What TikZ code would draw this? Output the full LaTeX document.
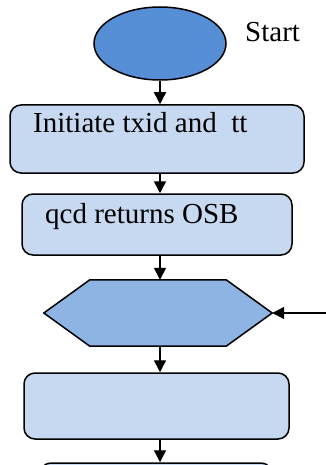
\documentclass[tikz,border=0pt]{standalone}
\usepackage{fontspec}
\setmainfont{Liberation Serif}
\usetikzlibrary{shapes.geometric,arrows.meta,calc}
\definecolor{ellblue}{HTML}{558ED5}
\definecolor{boxblue}{HTML}{C6D9F1}
\definecolor{hexblue}{HTML}{8EB4E3}
\tikzset{
  procbox/.style={draw=black, line width=1.5pt, fill=boxblue, rounded corners=11pt, inner sep=0pt},
  txt/.style={inner sep=0pt, anchor=base west, font=\fontsize{29}{29}\selectfont},
  flow/.style={line width=1.4pt, -{Triangle[width=12pt,length=12pt]}}
}
\begin{document}
\begin{tikzpicture}[x=1pt,y=-1pt]
\useasboundingbox (0,0) rectangle (326,465);
\node[ellipse, draw=black, line width=1.5pt, fill=ellblue, inner sep=0pt, minimum width=132pt, minimum height=73pt] (ell) at (160,43.5) {};
\node[txt] (start) at (245,42) {Start};
\node[procbox, minimum width=294pt, minimum height=68pt] (b1) at (157,139) {};
\node[txt] (t1) at (33,133) {Initiate txid and\ \ tt};
\node[procbox, minimum width=270pt, minimum height=61pt] (b2) at (157,224.5) {};
\node[txt] (t2) at (45,223) {qcd returns OSB};
\node[inner sep=0pt, minimum width=228pt, minimum height=66pt] (hex) at (158,313) {};
\draw[line width=1.5pt, fill=hexblue] (hex.west) -- ($(hex.north west)+(46,0)$) -- ($(hex.north east)+(-46,0)$) -- (hex.east) -- ($(hex.south east)+(-46,0)$) -- ($(hex.south west)+(46,0)$) -- cycle;
\node[procbox, minimum width=265pt, minimum height=66pt] (b3) at (156.5,406) {};
\node[procbox, minimum width=232pt, minimum height=60pt] (b4) at (156,493) {};
\coordinate (in) at (328,313);
\draw[flow] (ell.south) -- (ell.south |- b1.north);
\draw[flow] (b1.south -| ell.south) -- (b2.north -| ell.south);
\draw[flow] (b2.south -| ell.south) -- (hex.north -| ell.south);
\draw[flow] (hex.south -| ell.south) -- (b3.north -| ell.south);
\draw[flow] (b3.south -| ell.south) -- (b4.north -| ell.south);
\draw[flow] (in) -- (hex.east);
\end{tikzpicture}
\end{document}
